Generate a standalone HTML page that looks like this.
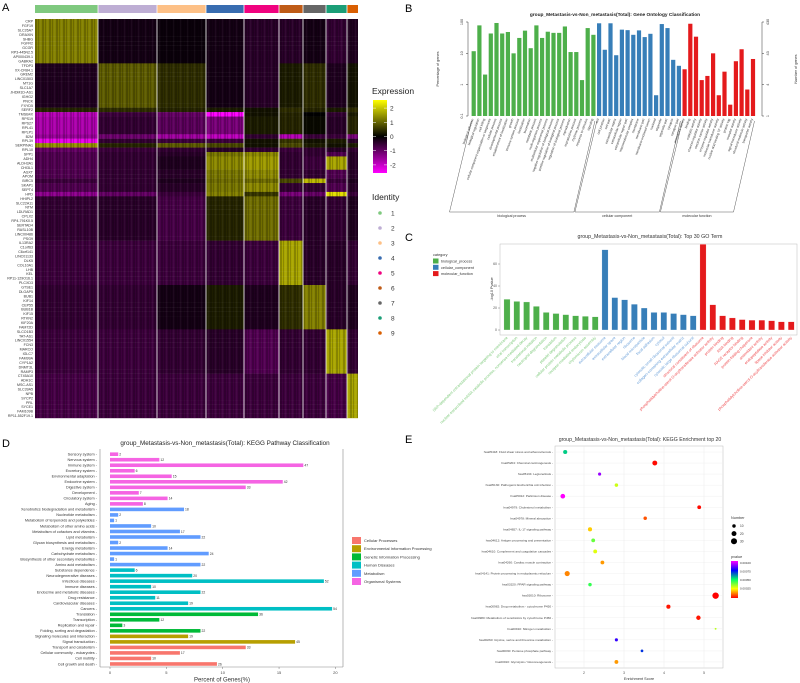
<!DOCTYPE html>
<html><head><meta charset="utf-8"><style>
html,body{margin:0;padding:0;background:#fff;width:800px;height:683px;overflow:hidden}
svg{display:block;font-family:"Liberation Sans",sans-serif}
</style></head><body>
<svg id="fig" width="800" height="683" viewBox="0 0 800 683" xmlns="http://www.w3.org/2000/svg">
<defs>
<pattern id="stripes" width="7" height="4.48" patternUnits="userSpaceOnUse">
<rect x="0.5" y="0" width="1" height="4.48" fill="#000" opacity="0.4"/>
<rect x="3.2" y="0" width="0.6" height="4.48" fill="#000" opacity="0.3"/>
<rect x="5.3" y="0" width="0.8" height="4.48" fill="#fff" opacity="0.06"/>
</pattern>
<linearGradient id="exprGrad" x1="0" y1="0" x2="0" y2="1">
<stop offset="0" stop-color="#FFFF00"/><stop offset="0.5" stop-color="#000"/><stop offset="1" stop-color="#FF00FF"/></linearGradient>
<linearGradient id="pGrad" x1="0" y1="1" x2="0" y2="0">
<stop offset="0" stop-color="#FF0000"/><stop offset="0.25" stop-color="#FFFF00"/><stop offset="0.5" stop-color="#00FF66"/><stop offset="0.75" stop-color="#0000FF"/><stop offset="1" stop-color="#FF00FF"/></linearGradient>
</defs>
<text x="2" y="11" font-size="11">A</text>
<text x="405" y="12" font-size="11">B</text>
<text x="405" y="241" font-size="11">C</text>
<text x="2" y="447" font-size="11">D</text>
<text x="405" y="443" font-size="11">E</text>
<g id="gA"></g>
<g id="gB"></g>
<g id="gC"></g>
<g id="gD"></g>
<g id="gE"></g>
</svg>
<script>
// ---------- Panel A data ----------
const clusterIds = ["1","2","3","4","5","6","7","8","9"];
const clusterColors = ["#7FC97F","#BEAED4","#FDC086","#386CB0","#F0027F","#BF5B17","#666666","#1B9E77","#D95F02"];
const clusterEdges = [35,98,157,206,244,279,303,326,347,358];
const geneNames = ["CRP","FGF19","SLC26A7","DRAXIN","SHBG","FGFR2","GCGR","RP3-445N2.5","AP000439.1","GABRA2",
"TFDP3","XX-CR84.1","GREM2","LINC01503","MT1G","SLC1A7","JHDM1D-AS1","IGHG2","PNCK","FXYD5",
"SERF2","TMSB4X","RPS19","RPS27","RPL41","RPLP1","B2M","RPL39","SERPINA1","RPL10",
"SPP1","ADH4","ALDH3A1","CHI3L1","AGXT","APOM","BIRC5","SKAP1","SEPT4","HPD",
"HHIPL2","SLC22A11","NTM","LDLRAD1","CPLX2","RP4-791K0.5","SERTAD4","RASL10B","LINC00486","PSG9",
"IL13RA2","C1orf63","C6orf141","LINC01133","DLK5","COL10A1","LHB","KEL","RP11-129O16.1","PLCXD3",
"GTSE1","DLGAP5","BUB1","KIF14","CEP55","BUB1B","KIF15","RTKN2","KIF20A","FAM72D",
"SLCO1B3","TAT-AS1","LINC01554","FCN3","MARCO","IGLC7","FAM99A","CYP1A2","DNMT3L","RAMP3",
"CT45A10","ADH1C","MSC-AS1","SLC39A5","NPB","SYCP2","PRL","SYCE1","FAM109B","RP11-552F19.1"];
const blockC1 = [1.4,-0.2,-0.1,-0.2,-0.4,-0.4,-0.2,-0.5,-0.3];
const blockC2 = [-0.3,1.0,0.5,-0.2,-0.4,0.3,0.5,-0.3,0.2];
const rowSERF2 = [0.4,0.5,0.4,0.3,0.2,0.5,0.4,0.3,0.5];
const rowRibo = [-1.7,-0.5,-0.9,-1.2,0.3,0.4,0.1,-0.4,0.4];
const rowTMSB4X = [-1.8,-0.6,-1.0,-2.5,0.2,0.4,0.0,-0.5,0.3];
const rowB2M = [-1.5,-1.1,-1.6,-1.9,-0.5,-1.8,-0.6,-0.6,-1.2];
const rowRPL39 = [-2.3,-0.5,-0.6,-0.6,0.2,0.6,0.2,0.3,-0.4];
const rowSERPINA1 = [1.6,0.4,1.0,0.8,0.2,0.8,0.3,0.2,0.3];
const rowRPL10 = [-1.0,-0.6,-0.5,-0.4,-0.5,-0.6,-0.5,-0.4,-0.5];
const blockC4 = [-0.8,-0.5,-0.4,1.3,1.5,-0.5,-0.5,-0.8,-0.4];
const rowADH4 = [-0.8,-0.5,-0.3,1.5,1.7,-0.5,-0.6,1.8,-0.4];
const rowBIRC5 = [-0.6,-0.5,-0.3,1.2,1.2,0.8,2.0,-0.6,-0.3];
const rowHPD = [-1.4,-1.0,-0.6,1.4,0.6,-1.2,-1.0,2.4,-0.6];
const blockC5 = [-0.5,-0.4,-0.7,0.4,1.2,-0.6,-0.4,-0.5,-0.3];
const blockC6 = [-0.6,-0.6,-0.6,-0.5,-0.6,1.8,-0.4,-0.4,-0.5];
const blockC7 = [-0.5,-0.5,-0.2,0.3,-0.3,0.5,1.4,-0.4,-0.3];
const blockC8 = [-0.6,-0.6,-0.5,-0.4,-0.8,-0.5,-0.5,1.8,-0.5];
const blockC9 = [-0.7,-0.6,-0.6,-0.6,-0.6,-0.6,-0.6,-0.7,1.8];
const exprTicks = [2,1,0,-1,-2];

// ---------- Panel B data ----------
const goCats = ["biological process","cellular component","molecular function"];
const goTerms = [
["biological adhesion","biological regulation","cell killing","cellular component organization or biogenesis","cellular process","developmental process","establishment of localization","growth","immune system process","localization","locomotion","metabolic process","multi-organism process","multicellular organismal process","negative regulation of biological process","positive regulation of biological process","regulation of biological process","reproduction","reproductive process","rhythmic process","response to stimulus","signaling"],
["cell","cell junction","cell part","extracellular matrix","extracellular region","extracellular region part","macromolecular complex","membrane","membrane part","membrane-enclosed lumen","nucleoid","organelle","organelle part","synapse","synapse part"],
["antioxidant activity","binding","catalytic activity","channel regulator activity","electron carrier activity","enzyme regulator activity","molecular transducer activity","nucleic acid binding TF activity","protein tag","receptor activity","signal transducer activity","structural molecule activity","transporter activity"]];
const goPct = [
[11.7,78,2.1,43,93,43,48,10,31,53,14.6,78,31,49,45,45,72,11,11,1.4,64,39],
[91,13,91,8.7,57,55,39,54,33,42,0.46,86,64,6.2,4.0],
[3.1,88,34,1.4,1.9,10,0.46,2.6,0.23,5.6,13.5,0.7,6.6]];
const goPctTicks = [0.1,1,10,100];
const goNumTicks = ["1","4","43","430"];

// ---------- Panel C data ----------
const topTerms = [
["SRP-dependent cotranslational protein targeting to membrane","viral transcription","nuclear-transcribed mRNA catabolic process, nonsense-mediated decay","translational initiation","neutrophil degranulation","translation","platelet degranulation","cellular protein metabolic process","receptor-mediated endocytosis","chylomicron assembly"],
["extracellular exosome","extracellular space","extracellular region","ribosome","blood microparticle","focal adhesion","cytosol","cytosolic small ribosomal subunit","collagen-containing extracellular matrix","cytosolic large ribosomal subunit"],
["structural constituent of ribosome","phosphatidylcholine-sterol O-acyltransferase activator activity","protein binding","RNA binding","RAGE receptor binding","protein-folding chaperone","antioxidant activity","endopeptidase activity","lipase inhibitor activity","phosphatidylcholine-sterol O-acyltransferase activator activity"]];
const topVals = [
[28,26,25.5,21.5,16,15,14,13,12.5,12],
[73,29.5,27.5,23.5,20,16,16,15,14,13],
[78,23,13,11,9.5,9,9,8.5,7.5,7.5]];
const topTicks = [0,20,40,60];
const topCatNames = ["biological_process","cellular_component","molecular_function"];

// ---------- Panel D data ----------
const keggNames = ["Sensory system","Nervous system","Immune system","Excretory system","Environmental adaptation","Endocrine system","Digestive system","Development","Circulatory system","Aging",
"Xenobiotics biodegradation and metabolism","Nucleotide metabolism","Metabolism of terpenoids and polyketides","Metabolism of other amino acids","Metabolism of cofactors and vitamins","Lipid metabolism","Glycan biosynthesis and metabolism","Energy metabolism","Carbohydrate metabolism","Biosynthesis of other secondary metabolites","Amino acid metabolism",
"Substance dependence","Neurodegenerative diseases","Infectious diseases","Immune diseases","Endocrine and metabolic diseases","Drug resistance","Cardiovascular diseases","Cancers",
"Translation","Transcription","Replication and repair","Folding, sorting and degradation",
"Signaling molecules and interaction","Signal transduction",
"Transport and catabolism","Cellular community - eukaryotes","Cell motility","Cell growth and death"];
const keggCounts = [2,12,47,6,15,42,33,7,14,8, 18,2,1,10,17,22,2,14,24,1,22, 6,20,52,10,22,11,19,54, 36,12,3,22, 19,45, 33,17,10,26];
const keggCatIdx = [5,5,5,5,5,5,5,5,5,5, 4,4,4,4,4,4,4,4,4,4,4, 3,3,3,3,3,3,3,3, 2,2,2,2, 1,1, 0,0,0,0];
const keggCatNames = ["Cellular Processes","Environmental Information Processing","Genetic Information Processing","Human Diseases","Metabolism","Organismal Systems"];
const keggCatColors = ["#F8766D","#B79F00","#00BA38","#00BFC4","#619CFF","#F564E3"];
const keggTotal = 274;
const keggTicks = [0,5,10,15,20];

// ---------- Panel E data ----------
const enrTerms = ["hsa05418: Fluid shear stress and atherosclerosis","hsa05204: Chemical carcinogenesis","hsa05134: Legionellosis","hsa05130: Pathogenic Escherichia coli infection","hsa05012: Parkinson disease","hsa04979: Cholesterol metabolism","hsa04978: Mineral absorption","hsa04657: IL-17 signaling pathway","hsa04612: Antigen processing and presentation","hsa04610: Complement and coagulation cascades","hsa04260: Cardiac muscle contraction","hsa04141: Protein processing in endoplasmic reticulum","hsa03320: PPAR signaling pathway","hsa03010: Ribosome","hsa00982: Drug metabolism - cytochrome P450","hsa00980: Metabolism of xenobiotics by cytochrome P450","hsa00910: Nitrogen metabolism","hsa00260: Glycine, serine and threonine metabolism","hsa00030: Pentose phosphate pathway","hsa00010: Glycolysis / Gluconeogenesis"];
const enrScores = [1.53,3.77,2.39,2.81,1.47,4.88,3.53,2.15,2.23,2.28,2.46,1.58,2.15,5.29,4.11,4.86,5.29,2.81,3.45,2.81];
const enrNumbers = [14,20,8,10,18,12,10,14,12,12,12,22,10,34,14,16,3,8,6,12];
const enrPvalues = [0.00055,0.00001,0.0009,0.0003,0.001,0.00001,0.00008,0.0002,0.0004,0.00028,0.00015,0.00013,0.00045,0.000001,0.00002,0.00002,0.00032,0.0008,0.0007,0.00015];
const enrTicks = [2,3,4,5];
const enrNumLegend = [10,20,30];
const enrPTicks = ["0.00100","0.00075","0.00050","0.00025"];

const NS="http://www.w3.org/2000/svg";
function mk(parent,tag,attrs,text){const e=document.createElementNS(NS,tag);for(const k in attrs)e.setAttribute(k,attrs[k]);if(text!==undefined)e.textContent=text;parent.appendChild(e);return e;}
function lerp(a,b,t){return a+(b-a)*t;}
function exprColor(v){v=Math.max(-2.5,Math.min(2.5,v));let r,g,b;
 if(v>=0){const t=v/2.5;r=Math.round(235*t);g=Math.round(230*t);b=0;}else{const t=-v/2.5;r=Math.round(255*t);g=0;b=Math.round(255*t);}
 return `rgb(${r},${g},${b})`;}

// ================= Panel A =================
(function(){
const g=document.getElementById('gA');
const rowsVals=[];
for(let i=0;i<10;i++)rowsVals.push(blockC1);
for(let i=0;i<10;i++)rowsVals.push(blockC2);
rowsVals.push(rowSERF2,rowTMSB4X,rowRibo,rowRibo,rowRibo,rowRibo,rowB2M,rowRPL39,rowSERPINA1,rowRPL10);
rowsVals.push(blockC4,rowADH4,rowADH4,rowADH4,blockC4,blockC4,rowBIRC5,blockC4,blockC4,rowHPD);
for(let i=0;i<10;i++)rowsVals.push(blockC5);
for(let i=0;i<10;i++)rowsVals.push(blockC6);
for(let i=0;i<10;i++)rowsVals.push(blockC7);
for(let i=0;i<10;i++)rowsVals.push(blockC8);
for(let i=0;i<10;i++)rowsVals.push(blockC9);
const top=19,bottom=418,rh=(bottom-top)/geneNames.length;
clusterIds.forEach((c,j)=>{
 const r=mk(g,'rect',{x:clusterEdges[j],y:5,width:clusterEdges[j+1]-clusterEdges[j],height:8,fill:clusterColors[j]});
 
 
});
geneNames.forEach((gn,i)=>{
 const y=top+i*rh;
 const vals=rowsVals[i]||blockC9;
 vals.forEach((v,j)=>{
  const r=mk(g,'rect',{x:clusterEdges[j],y:y,width:clusterEdges[j+1]-clusterEdges[j],height:rh+0.2,fill:exprColor(v)});
  
  
 });
 const t=mk(g,'text',{x:33,y:y+rh*0.8,'font-size':3.6,'text-anchor':'end',fill:'#333'},gn);
 
 
});
mk(g,'rect',{x:35,y:top,width:323,height:bottom-top,fill:'url(#stripes)'});
for(let j=1;j<clusterEdges.length-1;j++){mk(g,'line',{x1:clusterEdges[j],x2:clusterEdges[j],y1:5,y2:bottom,stroke:'#fff','stroke-width':0.8});}
const lt=mk(g,'text',{x:372,y:94,'font-size':8.5,fill:'#222'},'Expression');

const cb=mk(g,'rect',{x:373,y:100,width:14,height:73,fill:'url(#exprGrad)'});

exprTicks.forEach(v=>{const y=136.5-v*14.2;mk(g,'line',{x1:373,x2:376,y1:y,y2:y,stroke:'#fff','stroke-width':0.5});mk(g,'line',{x1:384,x2:387,y1:y,y2:y,stroke:'#fff','stroke-width':0.5});
 const t=mk(g,'text',{x:390,y:y+2.5,'font-size':6.5,fill:'#333'},String(v));});
const it=mk(g,'text',{x:372,y:200,'font-size':8.5,fill:'#222'},'Identity');

clusterIds.forEach((c,j)=>{const y=213+j*15;
 const d=mk(g,'circle',{cx:380,cy:y,r:1.8,fill:clusterColors[j]});
 const t=mk(g,'text',{x:391,y:y+2.5,'font-size':6.5,fill:'#333'},c);});
})();

// ================= Panel B =================
(function(){
const g=document.getElementById('gB');
const x0=468,x1=762,yTop=22,yBot=116;
const ly=v=>yBot-(Math.log10(v)+1)/3*(yBot-yTop);
const colors=["#4DAF4A","#377EB8","#E41A1C"];
const tt=mk(g,'text',{x:615,y:16,'font-size':4.8,'font-weight':'bold','text-anchor':'middle',fill:'#222'},'group_Metastasis-vs-Non_metastasis(Total): Gene Ontology Classification');

mk(g,'line',{x1:x0,x2:x0,y1:yTop,y2:yBot,stroke:'#333','stroke-width':0.5});
mk(g,'line',{x1:x1,x2:x1,y1:yTop,y2:yBot,stroke:'#333','stroke-width':0.5});
goPctTicks.forEach((v,i)=>{const y=ly(v);mk(g,'line',{x1:x0-2,x2:x0,y1:y,y2:y,stroke:'#333','stroke-width':0.5});
 const t=mk(g,'text',{x:x0-5,y:y,'font-size':3.8,'text-anchor':'middle',fill:'#333',transform:`rotate(-90 ${x0-5} ${y})`},String(v));
 mk(g,'line',{x1:x1,x2:x1+2,y1:y,y2:y,stroke:'#333','stroke-width':0.5});
 const t2=mk(g,'text',{x:x1+7,y:y,'font-size':3.8,'text-anchor':'middle',fill:'#333',transform:`rotate(-90 ${x1+7} ${y})`},goNumTicks[i]);});
const yl=mk(g,'text',{x:439,y:69,'font-size':3.8,'text-anchor':'middle',fill:'#333',transform:'rotate(-90 439 69)'},'Percentage of genes');
const yr=mk(g,'text',{x:797,y:69,'font-size':3.8,'text-anchor':'middle',fill:'#333',transform:'rotate(-90 797 69)'},'Number of genes');
let k=0;const step=5.7,start=471.5;
const groupBounds=[];
goPct.forEach((arr,ci)=>{const gs=start+k*step;
 arr.forEach((v,i)=>{const cx=start+k*step+2.2;const y=ly(v);
  const r=mk(g,'rect',{x:cx-2.1,y:y,width:4.2,height:yBot-y,fill:colors[ci]});
  const t=mk(g,'text',{x:cx,y:119,'font-size':3.2,'text-anchor':'end',fill:'#333',transform:`rotate(-70 ${cx} 119)`},goTerms[ci][i]);
  k++;});
 groupBounds.push([gs,start+k*step]);});
groupBounds.forEach((b,ci)=>{const bl=b[0]-22,br=b[1]-23;
 mk(g,'polyline',{points:`${b[0]},121 ${bl},212 ${br},212 ${b[1]-2},121`,fill:'none',stroke:'#333','stroke-width':0.4});
 const t=mk(g,'text',{x:(bl+br)/2,y:217,'font-size':3.6,'text-anchor':'middle',fill:'#333'},goCats[ci]);});
})();

// ================= Panel C =================
(function(){
const g=document.getElementById('gC');
const x0=500,x1=797,yTop=244,yBot=335,y0=330;
const sy=v=>y0-v*1.1;
const colors=["#4DAF4A","#377EB8","#E41A1C"];
const lcolors=["#7DC97A","#6A9FD8","#EE4A4E"];
const tt=mk(g,'text',{x:650,y:238,'font-size':5.3,'text-anchor':'middle',fill:'#333'},'group_Metastasis-vs-Non_metastasis(Total): Top 30 GO Term');
mk(g,'rect',{x:x0,y:yTop,width:x1-x0,height:yBot-yTop,fill:'#fff',stroke:'#bbb','stroke-width':0.5});
topTicks.forEach(v=>{const y=sy(v);mk(g,'line',{x1:x0-2,x2:x0,y1:y,y2:y,stroke:'#555','stroke-width':0.4});
 const t=mk(g,'text',{x:x0-3,y:y+1.2,'font-size':3.5,'text-anchor':'end',fill:'#555'},String(v));});
const yl=mk(g,'text',{x:493,y:289,'font-size':3.8,'text-anchor':'middle',fill:'#333',transform:'rotate(-90 493 289)'},'-log10 Pvalue');
let k=0;
topVals.forEach((arr,ci)=>{arr.forEach((v,i)=>{const cx=507+k*9.8;const y=Math.max(yTop,sy(v));
 const r=mk(g,'rect',{x:cx-3.1,y:y,width:6.2,height:y0-y,fill:colors[ci],stroke:'#fff','stroke-width':0.3});
 const t=mk(g,'text',{x:cx+1,y:338,'font-size':3.8,'text-anchor':'end',fill:lcolors[ci],transform:`rotate(-45 ${cx+1} 338)`},topTerms[ci][i]);
 k++;});});
const lg=mk(g,'text',{x:433,y:256,'font-size':3.8,fill:'#333'},'category');
topCatNames.forEach((n,i)=>{const y=258.5+i*6.3;
 const r=mk(g,'rect',{x:433,y:y,width:5.5,height:5,fill:colors[i]});
 const t=mk(g,'text',{x:441,y:y+4,'font-size':3.8,fill:'#333'},n);});
})();

// ================= Panel D =================
(function(){
const g=document.getElementById('gD');
const x0=110,xs=11.27,yFirst=454.2,step=5.52;
const tt=mk(g,'text',{x:225,y:445,'font-size':6.3,'text-anchor':'middle',fill:'#222'},'group_Metastasis-vs-Non_metastasis(Total): KEGG Pathway Classification');
mk(g,'line',{x1:100,x2:100,y1:449,y2:667,stroke:'#888','stroke-width':0.6});
mk(g,'line',{x1:100,x2:343,y1:667,y2:667,stroke:'#888','stroke-width':0.6});
mk(g,'line',{x1:343,x2:343,y1:449,y2:667,stroke:'#888','stroke-width':0.6});
keggTicks.forEach(v=>{const x=x0+v*xs;mk(g,'line',{x1:x,x2:x,y1:667,y2:669,stroke:'#555','stroke-width':0.4});
 const t=mk(g,'text',{x:x,y:674,'font-size':4,'text-anchor':'middle',fill:'#444'},String(v));});
const xt=mk(g,'text',{x:222,y:681.5,'font-size':6,'text-anchor':'middle',fill:'#333'},'Percent of Genes(%)');
keggNames.forEach((n,i)=>{const y=yFirst+i*step;const pct=keggCounts[i]/keggTotal*100;
 const r=mk(g,'rect',{x:x0,y:y-1.8,width:pct*xs,height:3.6,fill:keggCatColors[keggCatIdx[i]]});
 const v=mk(g,'text',{x:x0+pct*xs+1,y:y+1.3,'font-size':3.4,fill:'#333'},String(keggCounts[i]));
 const t=mk(g,'text',{x:97,y:y+1.3,'font-size':3.8,'text-anchor':'end',fill:'#333'},n+' -');});
keggCatNames.forEach((n,i)=>{const y=537+i*8.2;
 const r=mk(g,'rect',{x:352,y:y,width:9,height:7,fill:keggCatColors[i]});
 const t=mk(g,'text',{x:364,y:y+5,'font-size':4,fill:'#333'},n);});
})();

// ================= Panel E =================
(function(){
const g=document.getElementById('gE');
const x0=555,x1=723,yTop=446,yBot=668,xs=40,xo=584;
const sx=v=>xo+(v-2)*xs;
const yFirst=452,step=11.05;
function pColor(p){const t=Math.max(0,Math.min(1,p/0.001));
 const stops=[[255,0,0],[255,255,0],[0,255,102],[0,0,255],[255,0,255]];
 const s=t*4,i=Math.min(3,Math.floor(s)),f=s-i;const a=stops[i],b=stops[i+1];
 return `rgb(${Math.round(lerp(a[0],b[0],f))},${Math.round(lerp(a[1],b[1],f))},${Math.round(lerp(a[2],b[2],f))})`;}
const rad=n=>Math.sqrt(n)*0.55;
const tt=mk(g,'text',{x:640,y:441,'font-size':5.2,'text-anchor':'middle',fill:'#333'},'group_Metastasis-vs-Non_metastasis(Total): KEGG Enrichment top 20');
mk(g,'rect',{x:x0,y:yTop,width:x1-x0,height:yBot-yTop,fill:'#fff',stroke:'#bbb','stroke-width':0.5});
enrTicks.forEach(v=>{const x=sx(v);mk(g,'line',{x1:x,x2:x,y1:yTop,y2:yBot,stroke:'#e6e6e6','stroke-width':0.4});
 const t=mk(g,'text',{x:x,y:674,'font-size':3.6,'text-anchor':'middle',fill:'#555'},String(v));});
const xt=mk(g,'text',{x:639,y:680,'font-size':3.8,'text-anchor':'middle',fill:'#333'},'Enrichment Score');
enrTerms.forEach((n,i)=>{const y=yFirst+i*step;
 mk(g,'line',{x1:x0,x2:x1,y1:y,y2:y,stroke:'#ececec','stroke-width':0.4});
 const t=mk(g,'text',{x:553,y:y+1,'font-size':3.1,'text-anchor':'end',fill:'#444'},n+' -');
 const c=mk(g,'circle',{cx:sx(enrScores[i]),cy:y,r:rad(enrNumbers[i]),fill:pColor(enrPvalues[i])});});
const nt=mk(g,'text',{x:731,y:519,'font-size':3.8,fill:'#333'},'Number');
enrNumLegend.forEach((n,i)=>{const y=526+i*7.6;
 const c=mk(g,'circle',{cx:734,cy:y,r:rad(n),fill:'#000'});
 const t=mk(g,'text',{x:740,y:y+1.2,'font-size':3.2,fill:'#333'},String(n));});
const pt=mk(g,'text',{x:731,y:558,'font-size':3.8,fill:'#333'},'pvalue');
const cb=mk(g,'rect',{x:731,y:561,width:7,height:37,fill:'url(#pGrad)'});
enrPTicks.forEach((s,i)=>{const y=563+i*8.5;
 const t=mk(g,'text',{x:740,y:y+1,'font-size':3,fill:'#333'},s);});
})();
</script>
</body></html>
